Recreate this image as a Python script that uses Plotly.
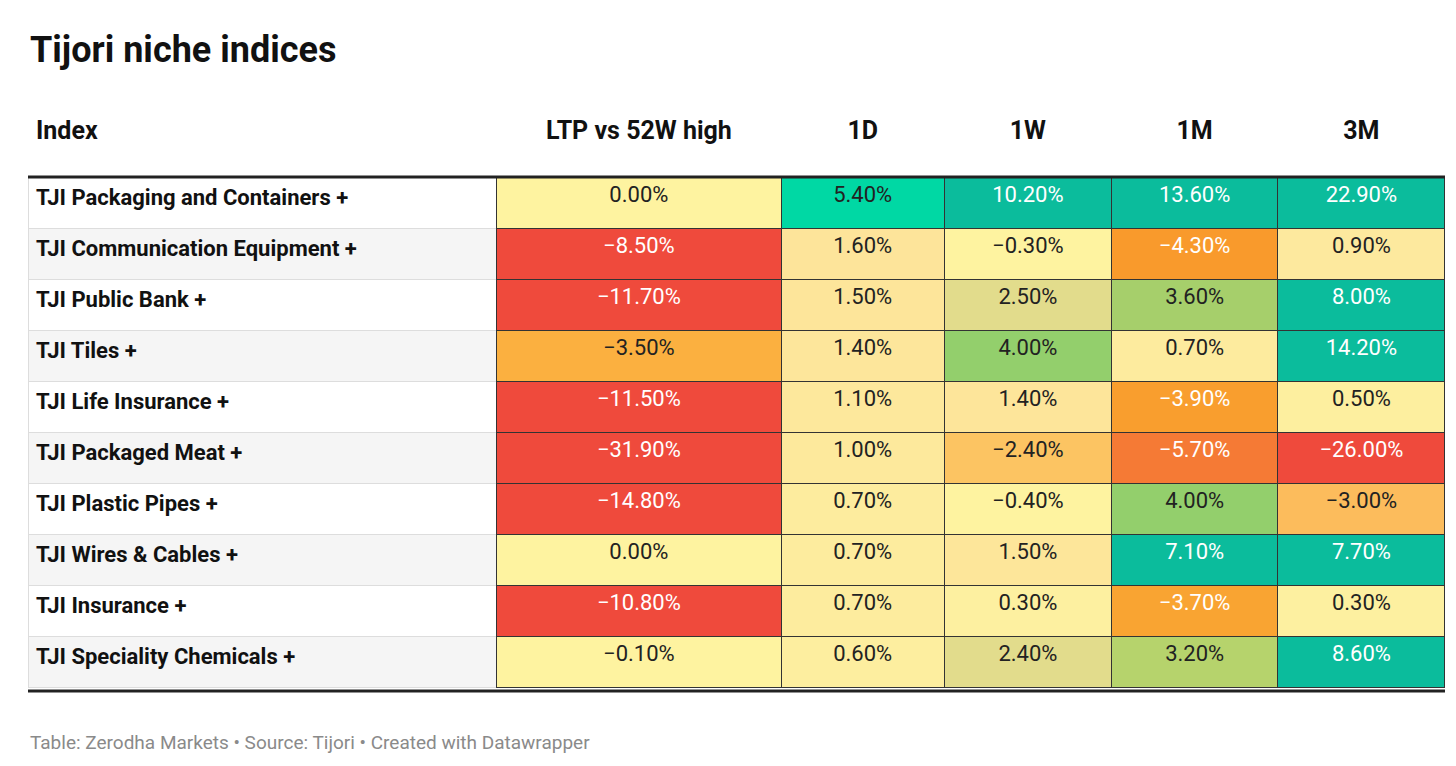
import plotly.graph_objects as go

indices = ["TJI Packaging and Containers +", "TJI Communication Equipment +", "TJI Public Bank +",
           "TJI Tiles +", "TJI Life Insurance +", "TJI Packaged Meat +", "TJI Plastic Pipes +",
           "TJI Wires & Cables +", "TJI Insurance +", "TJI Speciality Chemicals +"]
ltp = [0.0, -8.5, -11.7, -3.5, -11.5, -31.9, -14.8, 0.0, -10.8, -0.1]
d1 = [5.4, 1.6, 1.5, 1.4, 1.1, 1.0, 0.7, 0.7, 0.7, 0.6]
w1 = [10.2, -0.3, 2.5, 4.0, 1.4, -2.4, -0.4, 1.5, 0.3, 2.4]
m1 = [13.6, -4.3, 3.6, 0.7, -3.9, -5.7, 4.0, 7.1, -3.7, 3.2]
m3 = [22.9, 0.9, 8.0, 14.2, 0.5, -26.0, -3.0, 7.7, 0.3, 8.6]
headers = ["Index", "LTP vs 52W high", "1D", "1W", "1M", "3M"]

RED, TEAL = "#ef4a3c", "#0bbc9c"
ltp_fill = ["#fef3a0", RED, RED, "#fbb040", RED, RED, RED, "#fef3a0", RED, "#fef3a0"]
d1_fill = ["#00d8a4", "#fde49a", "#fde59a", "#fde69b", "#fde89c", "#fde99c", "#fdec9e", "#fdec9e", "#fdec9e", "#fdee9f"]
w1_fill = [TEAL, "#fef3a0", "#e2dc8c", "#93cf6c", "#fde59a", "#fcc462", "#fef3a0", "#fde69a", "#fdf0a0", "#e2dc8c"]
m1_fill = [TEAL, "#f99a2c", "#a6cf6b", "#fdeb9e", "#f99e2e", "#f57a35", "#93cf6c", TEAL, "#f9a432", "#b6d36c"]
m3_fill = [TEAL, "#fde99e", TEAL, TEAL, "#fdef9f", RED, "#fcbc5c", TEAL, "#fdf0a0", TEAL]

def fmt(vals):
    return [("−" if v < 0 else "") + f"{abs(v):.2f}%" for v in vals]

def txtcol(fills):
    dark = {RED, TEAL, "#f99a2c", "#f99e2e", "#f57a35", "#f9a432"}
    return ["white" if f in dark else "#222" for f in fills]

idx_fill = ["white" if i % 2 == 0 else "#f5f5f5" for i in range(len(indices))]
fills = [idx_fill, ltp_fill, d1_fill, w1_fill, m1_fill, m3_fill]

fig = go.Figure(go.Table(
    domain=dict(x=[20/1456, 1437/1456], y=[1-684/766, 1-100/766]),
    columnwidth=[468, 284, 163, 167, 166, 167],
    header=dict(values=[f"<b>{h}</b>" for h in headers],
                align=["left"] + ["center"]*5, height=69,
                fill_color="white", line_color="white",
                font=dict(family="Roboto", size=25, color="#111")),
    cells=dict(values=[[f"<b>{s}</b>" for s in indices], fmt(ltp), fmt(d1), fmt(w1), fmt(m1), fmt(m3)],
               align=["left"] + ["center"]*5, height=51,
               fill_color=fills,
               line=dict(color=["#dddddd", "#333", "#333", "#333", "#333", "#333"], width=1),
               font=dict(family="Roboto", size=22,
                         color=[["#111"]*10] + [txtcol(f) for f in fills[1:]])),
))

fig.add_shape(type="line", xref="paper", yref="paper", x0=20/1456, x1=1437/1456,
              y0=1-169/766, y1=1-169/766, line=dict(color="#222", width=3))
fig.add_shape(type="line", xref="paper", yref="paper", x0=20/1456, x1=1437/1456,
              y0=1-683/766, y1=1-683/766, line=dict(color="#222", width=3))

fig.add_annotation(text="<b>Tijori niche indices</b>", xref="paper", yref="paper",
                   x=20/1456, y=1-42/766, xanchor="left", yanchor="middle", showarrow=False,
                   font=dict(family="Roboto", size=36, color="#111"))
fig.add_annotation(text="Table: Zerodha Markets • Source: Tijori • Created with Datawrapper",
                   xref="paper", yref="paper", x=20/1456, y=1-734/766, xanchor="left",
                   yanchor="middle", showarrow=False,
                   font=dict(family="Roboto", size=19, color="#8a8a8a"))

fig.update_layout(width=1456, height=766, margin=dict(l=0, r=0, t=0, b=0),
                  paper_bgcolor="white")
fig.write_html("out.html")
